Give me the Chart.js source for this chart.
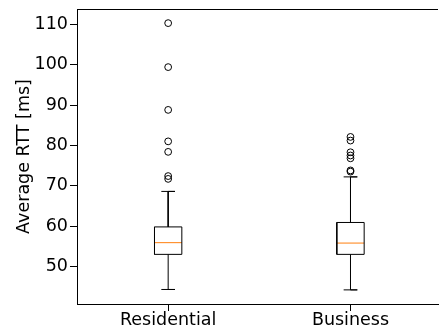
<!DOCTYPE html>
<html><head><meta charset="utf-8">
<script src="https://cdn.jsdelivr.net/npm/chart.js@4/dist/chart.umd.min.js"></script>
<style>html,body{margin:0;padding:0;overflow:hidden;background:#fff}#wrap{width:443px;height:329px;position:relative}</style>
</head><body><div id="wrap"><canvas id="c"></canvas></div>
<script>
const categories = ['Residential', 'Business'];
const q1 = [53.0, 53.0];
const medians = [55.9, 55.8];
const q3 = [59.8, 60.9];
const whiskerLow = [44.3, 44.2];
const whiskerHigh = [68.6, 72.2];
const outliersResidential = [110.3, 99.4, 88.8, 81.0, 78.4, 72.4, 71.7];
const outliersBusiness = [82.1, 81.2, 78.3, 77.5, 76.8, 73.8, 73.5];
const yTicks = [50, 60, 70, 80, 90, 100, 110];

const outliers = [outliersResidential, outliersBusiness];
const BOX_HALF = 0.075, CAP_HALF = 0.0375;
const FONT = {family: "'DejaVu Sans'", size: 17.5};

function line(points, color) {
  return {type: 'scatter', data: points, showLine: true, borderColor: color, borderWidth: 1,
          pointRadius: 0, pointHoverRadius: 0, fill: false, tension: 0};
}
const datasets = [];
categories.forEach((c, i) => {
  const x = i + 1;
  datasets.push(line([{x: x - CAP_HALF, y: whiskerLow[i]}, {x: x + CAP_HALF, y: whiskerLow[i]}, {x: x, y: whiskerLow[i]}, {x: x, y: q1[i]}], '#000'));
  datasets.push(line([{x: x - CAP_HALF, y: whiskerHigh[i]}, {x: x + CAP_HALF, y: whiskerHigh[i]}, {x: x, y: whiskerHigh[i]}, {x: x, y: q3[i]}], '#000'));
  datasets.push(line([{x: x - BOX_HALF, y: q1[i]}, {x: x + BOX_HALF, y: q1[i]}, {x: x + BOX_HALF, y: q3[i]}, {x: x - BOX_HALF, y: q3[i]}, {x: x - BOX_HALF, y: q1[i]}], '#000'));
  datasets.push(line([{x: x - BOX_HALF, y: medians[i]}, {x: x + BOX_HALF, y: medians[i]}], '#ff7f0e'));
  datasets.push({type: 'scatter', data: outliers[i].map(v => ({x: x, y: v})), showLine: false,
    pointStyle: 'circle', pointRadius: 3.4, pointBorderWidth: 1, pointBorderColor: '#000',
    pointBackgroundColor: 'rgba(0,0,0,0)'});
});

const frame = {
  id: 'frame',
  afterDatasetsDraw(chart) {
    const {ctx, chartArea: a} = chart;
    ctx.save();
    ctx.strokeStyle = '#000';
    ctx.lineWidth = 1;
    ctx.beginPath();
    ctx.moveTo(a.left, a.top + 0.5);
    ctx.lineTo(a.right, a.top + 0.5);
    ctx.stroke();
    ctx.restore();
  }
};

new Chart(document.getElementById('c'), {
  type: 'scatter',
  data: {datasets},
  plugins: [frame],
  options: {
    responsive: true, maintainAspectRatio: false, animation: false,
    layout: {padding: {left: 0, top: 9, right: 0, bottom: 0}},
    plugins: {legend: {display: false}, tooltip: {enabled: false}},
    scales: {
      x: {
        type: 'linear', min: 0.5, max: 2.48,
        afterBuildTicks: s => { s.ticks = categories.map((c, i) => ({value: i + 1})); },
        afterFit: s => { s.height = 25; s.paddingLeft = 0; s.paddingRight = 0; },
        ticks: {color: '#000', font: FONT, padding: -1, maxRotation: 0, autoSkip: false,
                callback: v => categories[v - 1]},
        grid: {drawOnChartArea: false, drawTicks: true, tickLength: 7, tickColor: '#000'},
        border: {display: true, color: '#000', width: 1}
      },
      y: {
        type: 'linear', min: 40.7, max: 113.8,
        afterBuildTicks: s => { s.ticks = yTicks.map(v => ({value: v})); },
        afterFit: s => { s.width = 77; s.paddingTop = 0; s.paddingBottom = 0; },
        ticks: {color: '#000', font: FONT, padding: 2},
        grid: {drawOnChartArea: false, drawTicks: true, tickLength: 7, tickColor: '#000'},
        border: {display: true, color: '#000', width: 1},
        title: {display: true, text: 'Average RTT [ms]', color: '#000', font: FONT, padding: {top: 14, bottom: 0}}
      }
    }
  }
});
</script></body></html>
